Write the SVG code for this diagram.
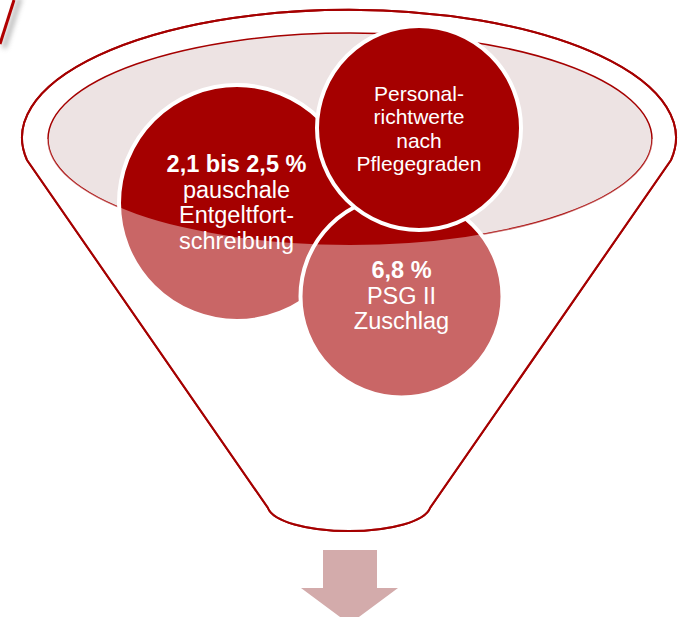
<svg xmlns="http://www.w3.org/2000/svg" width="681" height="617" viewBox="0 0 681 617">
<defs>
<style>
.circ{fill:#A50000;stroke:#FFFFFF;stroke-width:4}
.t{fill:#FFFFFF;font-family:"Liberation Sans",Arial,sans-serif;text-anchor:middle}
.b{font-weight:bold}
.edge{fill:none;stroke:#A50000;stroke-width:2}
</style>
<filter id="blur" x="-50%" y="-50%" width="200%" height="200%">
<feGaussianBlur stdDeviation="2.5"/>
</filter>
</defs>
<rect width="681" height="617" fill="#FFFFFF"/>
<g id="corner-line">
<line x1="4" y1="48" x2="20" y2="-2" stroke="#8C8C8C" stroke-width="5" opacity="0.6" filter="url(#blur)"/>
<line x1="0" y1="44" x2="14" y2="0" stroke="#B00000" stroke-width="3"/>
</g>
<g id="funnel-back">
<path class="edge" d="M27,160 A327,128 0 1 1 671,160 L430,508 A81.5,26 0 0 1 268,508 Z" fill="#FFFFFF"/>
<ellipse cx="350" cy="139" rx="302" ry="106" fill="#EDE3E3" stroke="#A50000" stroke-width="1.5"/>
</g>
<g id="node-entgelt">
<circle class="circ" cx="237" cy="203" r="118"/>
<text class="t" font-size="23.5"><tspan class="b" x="236.5" y="172">2,1 bis 2,5 %</tspan><tspan x="236.5" y="197.5">pauschale</tspan><tspan x="236.5" y="223">Entgeltfort-</tspan><tspan x="236.5" y="248.5">schreibung</tspan></text>
</g>
<g id="node-psg">
<circle class="circ" cx="401.5" cy="296.5" r="101"/>
<text class="t" font-size="23.5"><tspan class="b" x="401.5" y="278">6,8 %</tspan><tspan x="401.5" y="303.5">PSG II</tspan><tspan x="401.5" y="329">Zuschlag</tspan></text>
</g>
<g id="node-personal">
<circle class="circ" cx="419" cy="128" r="102"/>
<text class="t" font-size="21"><tspan x="419" y="101">Personal-</tspan><tspan x="419" y="124">richtwerte</tspan><tspan x="419" y="147.5">nach</tspan><tspan x="419" y="170.5">Pflegegraden</tspan></text>
</g>
<g id="funnel-front">
<path d="M48,139 A302,106 0 0 0 652,139 L676,137 A327,128 0 0 1 671,160 L430,508 A81.5,26 0 0 1 268,508 L27,160 A327,128 0 0 1 22,137 Z" fill="#FFFFFF" fill-opacity="0.4"/>
<path class="edge" d="M27,160 A327,128 0 1 1 671,160 L430,508 A81.5,26 0 0 1 268,508 Z"/>
</g>
<g id="connectors">
<polygon points="323,550 377,550 377,588 398,588 349.5,624 301,588 323,588" fill="#D3ABAB"/>
</g>
</svg>
